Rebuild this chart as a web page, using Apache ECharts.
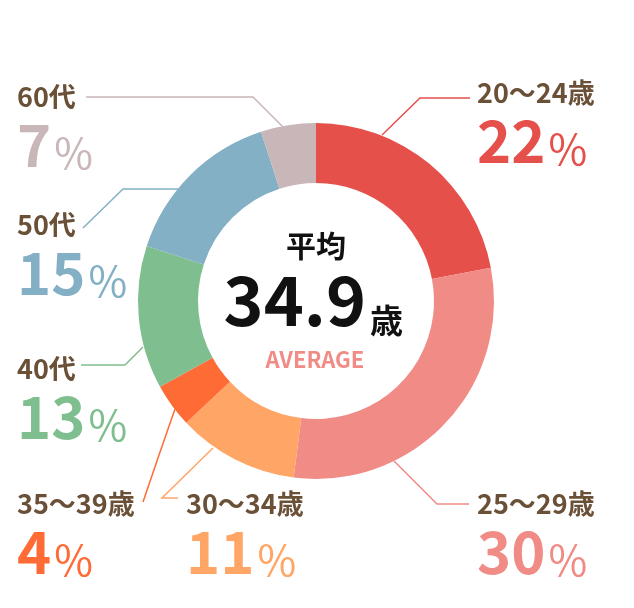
<!DOCTYPE html>
<html><head><meta charset="utf-8">
<script src="https://cdn.jsdelivr.net/npm/echarts@6/dist/echarts.min.js"></script>
<style>html,body{margin:0;padding:0;background:#fff}#c{width:634px;height:608px}</style>
</head><body><div id="c"></div>
<script>
// ---- data ----
const categories = ['20～24歳', '25～29歳', '30～34歳', '35～39歳', '40代', '50代', '60代'];
const shares = [22, 30, 11, 4, 13, 15, 5];           // slice sizes read from the ring
const percentLabels = ['22', '30', '11', '4', '13', '15', '7'];
const averageAge = '34.9';
const averageUnit = '歳';
const averageTitle = '平均';
const averageSub = 'AVERAGE';

// ---- styles / layout ----
const colors = ['#E6504B', '#F08B86', '#FFA566', '#FF6B35', '#7FBE8E', '#84B0C6', '#C9B6B8'];
const FONT = "'Noto Sans CJK JP', 'Noto Sans', sans-serif";
const labelPos = [[477, 93], [477, 504], [186, 504], [17, 504], [17, 369], [17, 225], [17, 97]];
const linePts = [
  [[382, 135], [420, 98], [470, 98]],
  [[394, 461], [437, 504], [469, 504]],
  [[213, 448], [162, 498], [178, 498]],
  [[175, 409], [159, 455], [143, 502]],
  [[143, 347], [125, 365], [81, 365]],
  [[178, 189], [123, 189], [83, 228]],
  [[283, 127], [253, 97], [86, 97]]
];

const chart = echarts.init(document.getElementById('c'), null, { renderer: 'canvas' });
chart.setOption({
  animation: false,
  series: [{
    type: 'pie',
    center: [316, 301],
    radius: [118, 178],
    startAngle: 90,
    clockwise: true,
    avoidLabelOverlap: false,
    silent: true,
    emphasis: { disabled: true },
    data: categories.map((n, i) => ({
      name: n,
      value: shares[i],
      itemStyle: { color: colors[i] },
      label: {
        rich: {
          n: { fontFamily: FONT, fontSize: 27, fontWeight: 'bold', color: '#6B5038', lineHeight: 32 },
          v: { fontFamily: FONT, fontSize: 58, fontWeight: 'bold', color: colors[i], lineHeight: 61, verticalAlign: 'bottom' },
          p: { fontFamily: FONT, fontSize: 42, fontWeight: 'normal', color: colors[i], lineHeight: 61, verticalAlign: 'bottom', padding: [0, 0, 0, 3] }
        }
      }
    })),
    label: {
      show: true,
      position: 'outside',
      formatter: p => '{n|' + p.name + '}\n{v|' + percentLabels[p.dataIndex] + '}{p|%}'
    },
    labelLine: { show: true, length: 10, length2: 10, lineStyle: { width: 1.5 } },
    labelLayout: params => {
      const i = params.dataIndex;
      return {
        x: labelPos[i][0], y: labelPos[i][1] - 16,
        align: 'left', verticalAlign: 'top',
        labelLinePoints: linePts[i]
      };
    }
  }],
  graphic: [
    { type: 'text', x: 316, y: 246, silent: true,
      style: { text: averageTitle, font: 'bold 30px ' + FONT, fill: '#111', align: 'center', verticalAlign: 'middle' } },
    { type: 'text', x: 366, y: 300, silent: true,
      style: { text: averageAge, font: 'bold 68px ' + FONT, fill: '#111', align: 'right', verticalAlign: 'middle' } },
    { type: 'text', x: 370, y: 320, silent: true,
      style: { text: averageUnit, font: 'bold 33px ' + FONT, fill: '#111', align: 'left', verticalAlign: 'middle' } },
    { type: 'text', x: 315, y: 360, silent: true,
      style: { text: averageSub, font: 'bold 22px ' + FONT, fill: '#F08B86', align: 'center', verticalAlign: 'middle' } }
  ]
});
</script></body></html>
